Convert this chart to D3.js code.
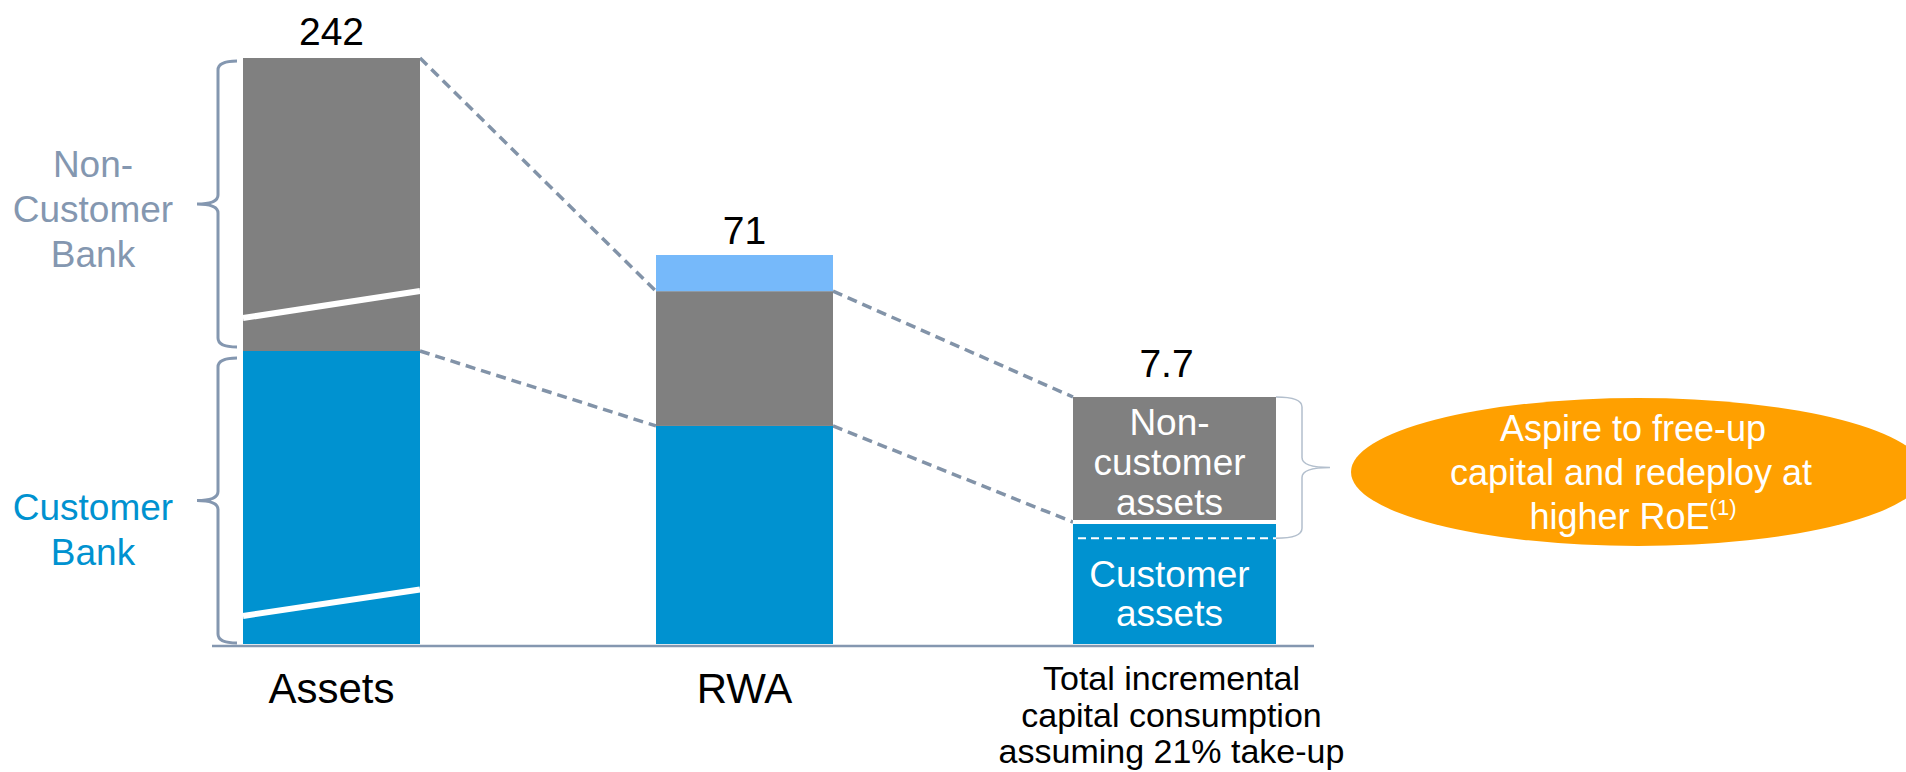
<!DOCTYPE html>
<html>
<head>
<meta charset="utf-8">
<script src="https://cdn.jsdelivr.net/npm/d3@7"></script>
<style>
    body { margin: 0; background: #fff; }
    svg text { font-family: "Liberation Sans", Arial, sans-serif; }
</style>
</head>
<body>
<svg width="1906" height="772"></svg>
<script>
// data
let categories = ["Assets", "RWA", "Total"];
let categoryLabels = [["Assets"], ["RWA"], ["Total incremental", "capital consumption", "assuming 21% take-up"]];
let totals = [242, 71, 7.7];
let customer = [121, 39.8, 3.8];
let nonCustomer = [121, 24.6, 3.9];
let otherRwa = [0, 6.6, 0];

let colors = {customer: "#0092d0", nonCustomer: "#808080", other: "#76b9fa"};
let slate = "#8497b0";

let svg = d3.select("svg");

// bars are schematic (not on a common scale), so each gets its own height
let baseline = 644,
    barTops = [58, 255, 397],
    barCenters = [331.5, 744.5, 1174.5],
    barWidths = [177, 177, 203];

let x = d3.scaleOrdinal().domain(categories).range(barCenters);
let w = d3.scaleOrdinal().domain(categories).range(barWidths);
let y = categories.map((c, i) => d3.scaleLinear().domain([0, totals[i]]).range([baseline, barTops[i]]));

let table = categories.map((c, i) => ({
    cat: c, idx: i, customer: customer[i], nonCustomer: nonCustomer[i], other: otherRwa[i]
}));
let series = d3.stack().keys(["customer", "nonCustomer", "other"])(table);

let left = d => x(d.data.cat) - w(d.data.cat) / 2;

// connectors between bars (drawn first, under the bars)
let levels = [d => d.customer, d => d.customer + d.nonCustomer];
let conn = svg.append("g");
levels.forEach(f => {
    d3.pairs(table).forEach(([a, b]) => {
        conn.append("line")
            .attr("x1", x(a.cat) + w(a.cat) / 2).attr("y1", y[a.idx](f(a)))
            .attr("x2", x(b.cat) - w(b.cat) / 2).attr("y2", y[b.idx](f(b)))
            .attr("stroke", "#8293a8").attr("stroke-width", 3.5).attr("stroke-dasharray", "10,6");
    });
});

svg.append("g").selectAll("g")
    .data(series)
    .join("g")
    .attr("fill", s => colors[s.key])
    .selectAll("rect")
    .data(s => s.filter(d => d[1] > d[0]))
    .join("rect")
    .attr("x", left)
    .attr("width", d => w(d.data.cat))
    .attr("y", d => y[d.data.idx](d[1]))
    .attr("height", d => y[d.data.idx](d[0]) - y[d.data.idx](d[1]));

// axis break marks on the Assets bar
let breaks = [[11.6, 22.5], [134.6, 145.8]];
svg.append("g").selectAll("line")
    .data(breaks)
    .join("line")
    .attr("x1", x("Assets") - w("Assets") / 2).attr("y1", d => y[0](d[0]))
    .attr("x2", x("Assets") + w("Assets") / 2).attr("y2", d => y[0](d[1]))
    .attr("stroke", "#fff").attr("stroke-width", 6);

// white gap and dashed split inside the last bar
let tb = table[2];
svg.append("line")
    .attr("x1", x(tb.cat) - w(tb.cat) / 2).attr("x2", x(tb.cat) + w(tb.cat) / 2)
    .attr("y1", y[2](tb.customer)).attr("y2", y[2](tb.customer))
    .attr("stroke", "#fff").attr("stroke-width", 4);
let splitAt = 3.3;
svg.append("line")
    .attr("x1", x(tb.cat) - w(tb.cat) / 2 + 5).attr("x2", x(tb.cat) + w(tb.cat) / 2)
    .attr("y1", y[2](splitAt)).attr("y2", y[2](splitAt))
    .attr("stroke", "#fff").attr("stroke-width", 2).attr("stroke-dasharray", "8,5");

// baseline
svg.append("line")
    .attr("x1", 212).attr("x2", 1314).attr("y1", baseline + 2).attr("y2", baseline + 2)
    .attr("stroke", slate).attr("stroke-width", 2.5);

// totals
svg.append("g").selectAll("text")
    .data(table)
    .join("text")
    .attr("x", d => x(d.cat) + (d.idx === 2 ? -8 : 0))
    .attr("y", d => y[d.idx](totals[d.idx]) - [13, 11, 20][d.idx])
    .attr("text-anchor", "middle")
    .attr("font-size", 39)
    .attr("fill", "#000")
    .text(d => totals[d.idx]);

// category labels
svg.append("g").selectAll("text")
    .data(table)
    .join("text")
    .attr("text-anchor", "middle")
    .attr("fill", "#000")
    .attr("font-size", d => categoryLabels[d.idx].length > 1 ? 34 : 42)
    .each(function (d) {
        let lines = categoryLabels[d.idx];
        let multi = lines.length > 1;
        d3.select(this).selectAll("tspan")
            .data(lines)
            .join("tspan")
            .attr("x", x(d.cat) - (multi ? 3 : 0))
            .attr("y", (l, i) => (multi ? 690 : 703) + i * 36.5)
            .text(l => l);
    });

// labels inside the last bar
function block(lines, cx, cy, lh, size) {
    svg.append("text")
        .attr("text-anchor", "middle").attr("fill", "#fff").attr("font-size", size)
        .selectAll("tspan")
        .data(lines)
        .join("tspan")
        .attr("x", cx)
        .attr("y", (l, i) => cy + (i - (lines.length - 1) / 2) * lh + 15)
        .text(l => l);
}
block(["Non-", "customer", "assets"], x(tb.cat) - 5,
    (y[2](totals[2]) + y[2](tb.customer)) / 2, 40, 37);
block(["Customer", "assets"], x(tb.cat) - 5,
    (y[2](splitAt) + y[2](0)) / 2, 39, 37);

// curly braces
function brace(xEnd, xSpine, xTip, y1, y2, r) {
    let ym = (y1 + y2) / 2;
    return "M" + xEnd + "," + y1 +
        " Q" + xSpine + "," + y1 + " " + xSpine + "," + (y1 + r) +
        " L" + xSpine + "," + (ym - r) +
        " Q" + xSpine + "," + ym + " " + xTip + "," + ym +
        " Q" + xSpine + "," + ym + " " + xSpine + "," + (ym + r) +
        " L" + xSpine + "," + (y2 - r) +
        " Q" + xSpine + "," + y2 + " " + xEnd + "," + y2;
}
let aLeft = x("Assets") - w("Assets") / 2;
let split = y[0](customer[0]);
svg.append("path")
    .attr("d", brace(aLeft - 6, aLeft - 25, aLeft - 46, y[0](totals[0]) + 3, split - 4, 9))
    .attr("fill", "none").attr("stroke", slate).attr("stroke-width", 3);
svg.append("path")
    .attr("d", brace(aLeft - 6, aLeft - 25, aLeft - 46, split + 7, baseline - 1, 9))
    .attr("fill", "none").attr("stroke", slate).attr("stroke-width", 3);

let tRight = x(tb.cat) + w(tb.cat) / 2;
svg.append("path")
    .attr("d", brace(tRight, tRight + 26, tRight + 54, y[2](totals[2]), y[2](splitAt), 10))
    .attr("fill", "none").attr("stroke", "#b3bfcd").attr("stroke-width", 1.5);

// side labels
function sideLabel(lines, y0, color) {
    svg.append("text")
        .attr("text-anchor", "middle").attr("fill", color).attr("font-size", 37)
        .selectAll("tspan")
        .data(lines)
        .join("tspan")
        .attr("x", 93)
        .attr("y", (l, i) => y0 + i * 45)
        .text(l => l);
}
sideLabel(["Non-", "Customer", "Bank"], 177, slate);
sideLabel(["Customer", "Bank"], 520, colors.customer);

// callout
let callout = svg.append("g");
callout.append("ellipse")
    .attr("cx", 1638).attr("cy", 472).attr("rx", 287).attr("ry", 74)
    .attr("fill", "#ffa000");
let ct = callout.append("text")
    .attr("text-anchor", "middle").attr("fill", "#fff").attr("font-size", 36);
ct.append("tspan").attr("x", 1633).attr("y", 441).text("Aspire to free-up");
ct.append("tspan").attr("x", 1631).attr("y", 485).text("capital and redeploy at");
let last = ct.append("tspan").attr("x", 1633).attr("y", 529);
last.text("higher RoE");
ct.append("tspan").attr("font-size", 22).attr("dy", -14).text("(1)");
</script>
</body>
</html>
